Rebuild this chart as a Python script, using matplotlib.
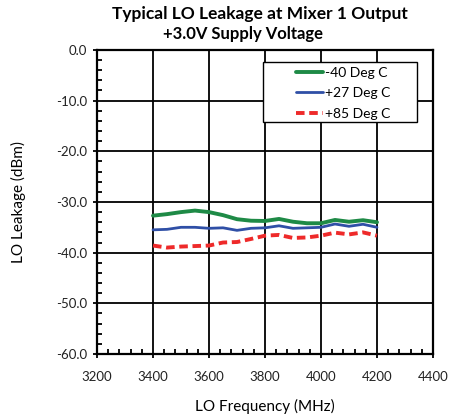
import numpy as np
import matplotlib

matplotlib.use("Agg")
import matplotlib.pyplot as plt
from matplotlib.patches import Rectangle
from matplotlib.ticker import MultipleLocator, FormatStrFormatter

plt.rcParams.update({"font.family": ["Lato", "DejaVu Sans"]})
plt.rcParams.update({"font.size": 10})

freq_mhz = [3400, 3450, 3500, 3550, 3600, 3650, 3700, 3750, 3800,
            3850, 3900, 3950, 4000, 4050, 4100, 4150, 4200]
leak_m40 = [-32.7, -32.4, -32.0, -31.7, -32.0, -32.6, -33.4, -33.7, -33.75,
            -33.35, -33.9, -34.2, -34.2, -33.55, -33.9, -33.6, -34.0]
leak_p27 = [-35.5, -35.4, -35.0, -35.0, -35.2, -35.1, -35.6, -35.2, -35.1,
            -34.7, -35.2, -35.1, -35.0, -34.35, -34.8, -34.4, -35.0]
leak_p85 = [-38.6, -39.0, -38.8, -38.7, -38.6, -38.0, -37.9, -37.3, -36.65,
            -36.5, -37.1, -37.0, -36.65, -36.05, -36.4, -36.0, -36.65]
labels = ["-40 Deg C", "+27 Deg C", "+85 Deg C"]

fig = plt.figure(figsize=(4.54, 4.16), dpi=100)
ax = fig.add_axes([0.2137, 0.149, 0.74, 0.731])

ax.plot(freq_mhz, leak_m40, color="#1e8a46", linewidth=2.8,
        solid_joinstyle="round", solid_capstyle="round", label=labels[0])
ax.plot(freq_mhz, leak_p27, color="#2f4fa6", linewidth=2.0,
        solid_joinstyle="round", solid_capstyle="round", label=labels[1])
ax.plot(freq_mhz, leak_p85, color="#ee2a2a", linewidth=2.8,
        linestyle=(0, (2.2, 1.2)), label=labels[2])

ax.set_xlim(3200, 4400)
ax.set_ylim(-60, 0)
ax.xaxis.set_major_locator(MultipleLocator(200))
ax.xaxis.set_minor_locator(MultipleLocator(40))
ax.yaxis.set_major_locator(MultipleLocator(10))
ax.yaxis.set_minor_locator(MultipleLocator(2))
ax.yaxis.set_major_formatter(FormatStrFormatter("%.1f"))

ax.grid(True, which="major", color="black", linewidth=1.3)
ax.set_axisbelow(True)
for s in ax.spines.values():
    s.set_linewidth(1.6)
ax.tick_params(which="major", direction="out", length=3, width=1.3,
               labelsize=9.5, labelcolor="#222222", pad=4)
ax.tick_params(which="minor", direction="in", length=3.5, width=1.3)
ax.tick_params(axis="x", which="major", pad=9)

ax.set_xlabel("LO Frequency (MHz)", fontsize=11, labelpad=12)
ax.set_ylabel("LO Leakage (dBm)", fontsize=11, labelpad=22)

fig.text(0.573, 0.966, "Typical LO Leakage at Mixer 1 Output", ha="center",
         va="center", fontsize=12.5, fontweight="bold")
fig.text(0.535, 0.918, "+3.0V Supply Voltage", ha="center", va="center",
         fontsize=12, fontweight="bold")

# legend box like the spreadsheet one: wide left margin
ax.add_patch(Rectangle((0.494, 0.763), 0.458, 0.1975, transform=ax.transAxes,
                       facecolor="white", edgecolor="black", linewidth=1.0,
                       zorder=4))
leg = ax.legend(loc="upper left", bbox_to_anchor=(0.556, 0.985),
                fontsize=10, frameon=False, handlelength=1.95,
                handletextpad=0.1, borderpad=0.4, labelspacing=0.6)
leg.set_zorder(5)

fig.savefig("out.png", dpi=100)
